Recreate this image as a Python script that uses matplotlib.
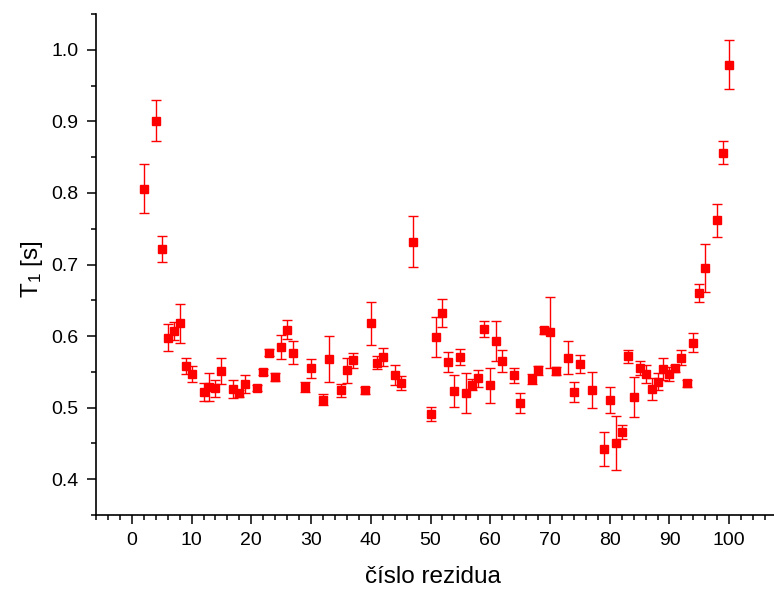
import matplotlib
matplotlib.use('Agg')
import matplotlib.pyplot as plt
from matplotlib.ticker import MultipleLocator

plt.rcParams['font.family'] = ['Liberation Sans', 'DejaVu Sans']
plt.rcParams['mathtext.fontset'] = 'custom'
plt.rcParams['mathtext.rm'] = 'Liberation Sans'

# residue number vs T1 relaxation time
residue = [2, 4, 5, 6, 7, 8, 9, 10, 12, 13, 14, 15, 17, 18, 19,
           21, 22, 23, 24, 25, 26, 27, 29, 30, 32, 33, 35, 36, 37, 39,
           40, 41, 42, 44, 45, 47, 50, 51, 52, 53, 54, 55, 56, 57, 58,
           59, 60, 61, 62, 64, 65, 67, 68, 69, 70, 71, 73, 74, 75, 77,
           79, 80, 81, 82, 83, 84, 85, 86, 87, 88, 89, 90, 91, 92, 93,
           94, 95, 96, 98, 99, 100]
t1 = [0.806, 0.901, 0.722, 0.598, 0.607, 0.618, 0.558, 0.547, 0.522, 0.529,
      0.527, 0.551, 0.526, 0.520, 0.533,
      0.527, 0.550, 0.577, 0.543, 0.585, 0.609, 0.577, 0.529, 0.555, 0.511,
      0.568, 0.524, 0.552, 0.566, 0.524,
      0.618, 0.563, 0.571, 0.545, 0.534, 0.732, 0.491, 0.599, 0.632, 0.564,
      0.523, 0.571, 0.521, 0.532, 0.541,
      0.610, 0.531, 0.593, 0.565, 0.545, 0.507, 0.540, 0.552, 0.608, 0.605,
      0.551, 0.570, 0.522, 0.561, 0.525,
      0.442, 0.511, 0.451, 0.466, 0.572, 0.515, 0.555, 0.547, 0.526, 0.536,
      0.554, 0.547, 0.555, 0.570, 0.534,
      0.591, 0.660, 0.695, 0.762, 0.856, 0.979]
t1_err = [0.034, 0.029, 0.018, 0.019, 0.012, 0.027, 0.011, 0.011, 0.013, 0.020,
          0.012, 0.018, 0.012, 0.005, 0.012,
          0.004, 0.004, 0.005, 0.006, 0.017, 0.013, 0.016, 0.007, 0.013, 0.008,
          0.032, 0.009, 0.017, 0.010, 0.005,
          0.030, 0.009, 0.013, 0.014, 0.010, 0.036, 0.010, 0.028, 0.020, 0.014,
          0.022, 0.011, 0.028, 0.008, 0.012,
          0.011, 0.025, 0.028, 0.015, 0.010, 0.014, 0.007, 0.006, 0.005, 0.050,
          0.006, 0.023, 0.014, 0.013, 0.025,
          0.024, 0.018, 0.038, 0.010, 0.009, 0.028, 0.010, 0.012, 0.015, 0.012,
          0.015, 0.010, 0.005, 0.010, 0.005,
          0.013, 0.013, 0.033, 0.023, 0.016, 0.034]

fig = plt.figure(figsize=(7.74, 5.94), dpi=100)
ax = fig.add_axes([0.124, 0.133, 0.876, 0.8434])

ax.errorbar(residue, t1, yerr=t1_err, fmt='s', color='red', ecolor='red',
            markersize=5.8, elinewidth=1.0, capsize=3.8, capthick=1.0)

ax.set_xlim(-6, 107.5)
ax.set_ylim(0.35, 1.05)
ax.set_xticks(range(0, 101, 10))
ax.xaxis.set_minor_locator(MultipleLocator(2))
ax.set_yticks([0.4, 0.5, 0.6, 0.7, 0.8, 0.9, 1.0])
ax.yaxis.set_minor_locator(MultipleLocator(0.05))
ax.yaxis.set_major_formatter(matplotlib.ticker.FormatStrFormatter('%.1f'))

ax.spines['top'].set_visible(False)
ax.spines['right'].set_visible(False)
ax.spines['left'].set_linewidth(1.2)
ax.spines['bottom'].set_linewidth(1.2)
ax.tick_params(which='major', direction='out', length=6.5, width=1.1,
               labelsize=14, pad=6)
ax.tick_params(which='minor', direction='out', length=3.5, width=1.1)

ax.set_xlabel('číslo rezidua', fontsize=17.5)
ax.set_ylabel(r'$\mathregular{T_1}$ [s]', fontsize=17.5)
ax.xaxis.set_label_coords(0.497, -0.102)
ax.yaxis.set_label_coords(-0.075, 0.49)

fig.savefig('out.png', dpi=100)
